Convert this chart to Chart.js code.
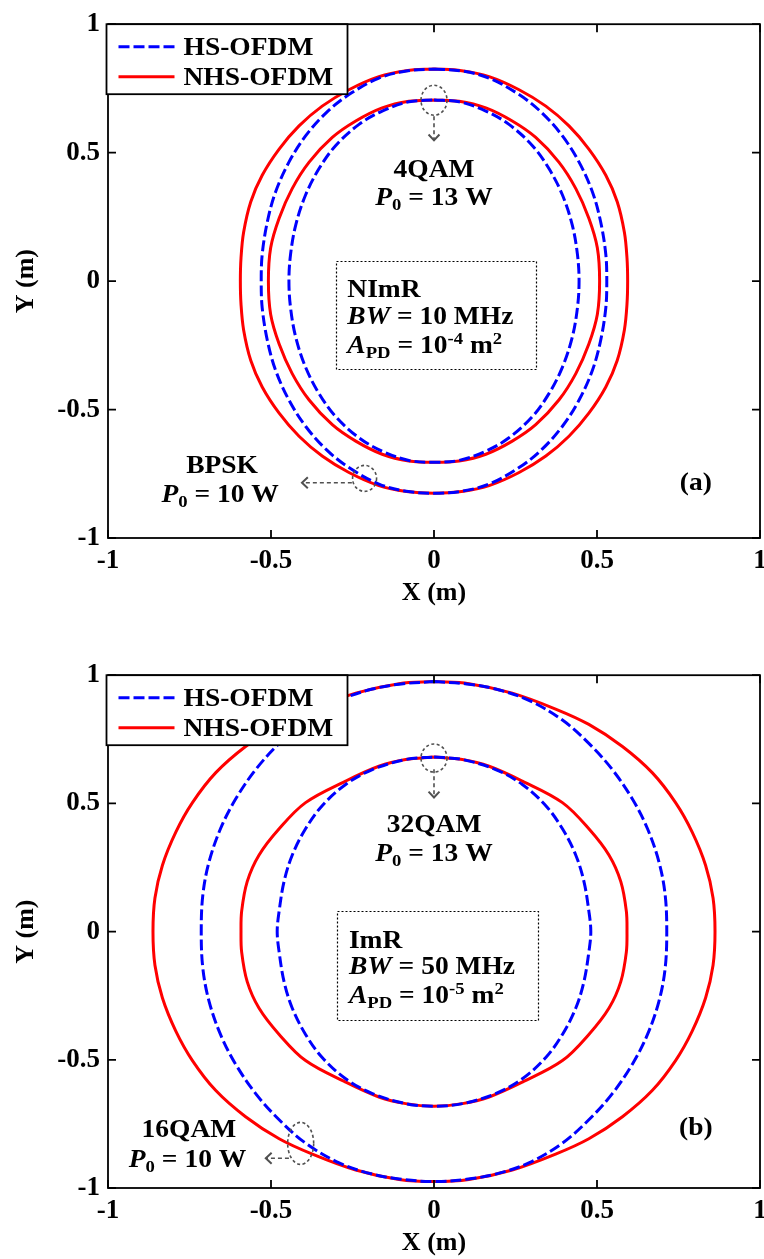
<!DOCTYPE html>
<html>
<head>
<meta charset="utf-8">
<title>Coverage boundaries: HS-OFDM vs NHS-OFDM</title>
<script src="https://cdn.jsdelivr.net/npm/chart.js@4.4.1/dist/chart.umd.min.js"></script>
<style>
  html, body { margin: 0; padding: 0; background: #fff; width: 764px; height: 1259px; overflow: hidden; }
  canvas { position: absolute; left: 0; }
  #panelA { top: 0; }
  #panelB { top: 651px; }
</style>
</head>
<body>
<canvas id="panelA" width="764" height="620"></canvas>
<canvas id="panelB" width="764" height="608"></canvas>
<script>
// ---- axis ticks ----
const tickValues = [-1, -0.5, 0, 0.5, 1];
const tickLabels = ['-1', '-0.5', '0', '0.5', '1'];
const seriesNames = ['HS-OFDM', 'NHS-OFDM'];

// ---- panel (a): NImR, BW = 10 MHz; outer = BPSK (P0 = 10 W), inner = 4QAM (P0 = 13 W) ----
const aHsOuter = [[0,0.826],[0.085,0.818],[0.169,0.790],[0.261,0.726],[0.331,0.655],[0.394,0.565],[0.445,0.463],[0.486,0.347],[0.511,0.232],[0.527,0.104],[0.530,0],
  [0.527,-0.104],[0.511,-0.232],[0.486,-0.347],[0.445,-0.463],[0.394,-0.565],[0.331,-0.655],[0.261,-0.726],[0.169,-0.790],[0.085,-0.818],[0,-0.826],
  [-0.085,-0.818],[-0.169,-0.790],[-0.261,-0.726],[-0.331,-0.655],[-0.394,-0.565],[-0.445,-0.463],[-0.486,-0.347],[-0.511,-0.232],[-0.527,-0.104],[-0.530,0],
  [-0.527,0.104],[-0.511,0.232],[-0.486,0.347],[-0.445,0.463],[-0.394,0.565],[-0.331,0.655],[-0.261,0.726],[-0.169,0.790],[-0.085,0.818],[0,0.826]];

const aNhsOuter = [[0,0.826],[0.085,0.819],[0.169,0.796],[0.261,0.745],[0.343,0.681],[0.414,0.604],[0.475,0.514],[0.527,0.412],[0.562,0.309],[0.584,0.190],[0.592,0.090],[0.594,0],
  [0.592,-0.090],[0.584,-0.190],[0.562,-0.309],[0.527,-0.412],[0.475,-0.514],[0.414,-0.604],[0.343,-0.681],[0.261,-0.745],[0.169,-0.796],[0.085,-0.819],[0,-0.826],
  [-0.085,-0.819],[-0.169,-0.796],[-0.261,-0.745],[-0.343,-0.681],[-0.414,-0.604],[-0.475,-0.514],[-0.527,-0.412],[-0.562,-0.309],[-0.584,-0.190],[-0.592,-0.090],[-0.594,0],
  [-0.592,0.090],[-0.584,0.190],[-0.562,0.309],[-0.527,0.412],[-0.475,0.514],[-0.414,0.604],[-0.343,0.681],[-0.261,0.745],[-0.169,0.796],[-0.085,0.819],[0,0.826]];

const aHsInner = [[0,0.705],[0.077,0.698],[0.159,0.662],[0.230,0.610],[0.302,0.527],[0.353,0.437],[0.394,0.335],[0.424,0.219],[0.440,0.104],[0.445,0],
  [0.440,-0.104],[0.424,-0.219],[0.394,-0.335],[0.353,-0.437],[0.302,-0.527],[0.230,-0.610],[0.159,-0.662],[0.077,-0.698],[0,-0.705],
  [-0.077,-0.698],[-0.159,-0.662],[-0.230,-0.610],[-0.302,-0.527],[-0.353,-0.437],[-0.394,-0.335],[-0.424,-0.219],[-0.440,-0.104],[-0.445,0],
  [-0.440,0.104],[-0.424,0.219],[-0.394,0.335],[-0.353,0.437],[-0.302,0.527],[-0.230,0.610],[-0.159,0.662],[-0.077,0.698],[0,0.705]];

const aNhsInner = [[0,0.705],[0.077,0.700],[0.159,0.674],[0.240,0.623],[0.312,0.559],[0.383,0.463],[0.435,0.360],[0.475,0.245],[0.501,0.130],[0.508,0],
  [0.501,-0.130],[0.475,-0.245],[0.435,-0.360],[0.383,-0.463],[0.312,-0.559],[0.240,-0.623],[0.159,-0.674],[0.077,-0.700],[0,-0.705],
  [-0.077,-0.700],[-0.159,-0.674],[-0.240,-0.623],[-0.312,-0.559],[-0.383,-0.463],[-0.435,-0.360],[-0.475,-0.245],[-0.501,-0.130],[-0.508,0],
  [-0.501,0.130],[-0.475,0.245],[-0.435,0.360],[-0.383,0.463],[-0.312,0.559],[-0.240,0.623],[-0.159,0.674],[-0.077,0.700],[0,0.705]];

// ---- panel (b): ImR, BW = 50 MHz; outer = 16QAM (P0 = 10 W), inner = 32QAM (P0 = 13 W) ----
const bHsOuter = [[0,0.975],[0.100,0.966],[0.189,0.946],[0.291,0.902],[0.394,0.825],[0.475,0.734],[0.547,0.632],[0.609,0.516],[0.655,0.401],[0.690,0.272],[0.709,0.144],[0.714,0],
  [0.709,-0.144],[0.690,-0.272],[0.655,-0.401],[0.609,-0.516],[0.547,-0.632],[0.475,-0.734],[0.394,-0.825],[0.291,-0.902],[0.189,-0.946],[0.100,-0.966],[0,-0.975],
  [-0.100,-0.966],[-0.189,-0.946],[-0.291,-0.902],[-0.394,-0.825],[-0.475,-0.734],[-0.547,-0.632],[-0.609,-0.516],[-0.655,-0.401],[-0.690,-0.272],[-0.709,-0.144],[-0.714,0],
  [-0.709,0.144],[-0.690,0.272],[-0.655,0.401],[-0.609,0.516],[-0.547,0.632],[-0.475,0.734],[-0.394,0.825],[-0.291,0.902],[-0.189,0.946],[-0.100,0.966],[0,0.975]];

const bNhsOuter = [[0,0.975],[0.107,0.967],[0.240,0.930],[0.373,0.868],[0.475,0.808],[0.578,0.722],[0.670,0.619],[0.741,0.503],[0.792,0.388],[0.833,0.259],[0.856,0.131],[0.862,0],
  [0.856,-0.131],[0.833,-0.259],[0.792,-0.388],[0.741,-0.503],[0.670,-0.619],[0.578,-0.722],[0.475,-0.808],[0.373,-0.868],[0.240,-0.930],[0.107,-0.967],[0,-0.975],
  [-0.107,-0.967],[-0.240,-0.930],[-0.373,-0.868],[-0.475,-0.808],[-0.578,-0.722],[-0.670,-0.619],[-0.741,-0.503],[-0.792,-0.388],[-0.833,-0.259],[-0.856,-0.131],[-0.862,0],
  [-0.856,0.131],[-0.833,0.259],[-0.792,0.388],[-0.741,0.503],[-0.670,0.619],[-0.578,0.722],[-0.475,0.808],[-0.373,0.868],[-0.240,0.930],[-0.107,0.967],[0,0.975]];

const bHsInner = [[0,0.681],[0.087,0.671],[0.189,0.632],[0.271,0.574],[0.343,0.491],[0.394,0.401],[0.435,0.298],[0.460,0.195],[0.475,0.080],[0.481,0],
  [0.475,-0.080],[0.460,-0.195],[0.435,-0.298],[0.394,-0.401],[0.343,-0.491],[0.271,-0.574],[0.189,-0.632],[0.087,-0.671],[0,-0.681],
  [-0.087,-0.671],[-0.189,-0.632],[-0.271,-0.574],[-0.343,-0.491],[-0.394,-0.401],[-0.435,-0.298],[-0.460,-0.195],[-0.475,-0.080],[-0.481,0],
  [-0.475,0.080],[-0.460,0.195],[-0.435,0.298],[-0.394,0.401],[-0.343,0.491],[-0.271,0.574],[-0.189,0.632],[-0.087,0.671],[0,0.681]];

const bNhsInner = [[0,0.681],[0.087,0.671],[0.169,0.645],[0.271,0.587],[0.394,0.503],[0.475,0.401],[0.537,0.298],[0.573,0.195],[0.590,0.080],[0.592,0],
  [0.590,-0.080],[0.573,-0.195],[0.537,-0.298],[0.475,-0.401],[0.394,-0.503],[0.271,-0.587],[0.169,-0.645],[0.087,-0.671],[0,-0.681],
  [-0.087,-0.671],[-0.169,-0.645],[-0.271,-0.587],[-0.394,-0.503],[-0.475,-0.401],[-0.537,-0.298],[-0.573,-0.195],[-0.590,-0.080],[-0.592,0],
  [-0.590,0.080],[-0.573,0.195],[-0.537,0.298],[-0.475,0.401],[-0.394,0.503],[-0.271,0.587],[-0.169,0.645],[-0.087,0.671],[0,0.681]];

// ---- styling ----
const FAMILY = '"Liberation Serif", "Times New Roman", Times, serif';
const BLUE = '#0000ff';
const RED = '#ff0000';
const NOTE = '#505050';
const STRETCH = 1.1;   // the figure's lettering is set slightly wide

const toPts = arr => arr.map(p => ({ x: p[0], y: p[1] }));

function hsSet(arr) {
  return { label: seriesNames[0], data: toPts(arr), showLine: true, pointRadius: 0,
           borderColor: BLUE, borderWidth: 3, borderDash: [11, 4], tension: 0.35, fill: false, order: 0 };
}
function nhsSet(arr) {
  return { label: seriesNames[1], data: toPts(arr), showLine: true, pointRadius: 0,
           borderColor: RED, borderWidth: 3, tension: 0.35, fill: false, order: 1 };
}

// draws a run of mixed italic / subscript / superscript text
function drawRich(ctx, runs, x, y, size, align) {
  const fontOf = r => (r.it ? 'italic ' : '') + 'bold ' + ((r.sub || r.sup) ? Math.round(size * 0.66) : size) + 'px ' + FAMILY;
  let total = 0;
  const widths = runs.map(r => { ctx.font = fontOf(r); const w = ctx.measureText(r.t).width; total += w; return w; });
  const startX = align === 'center' ? x - total * STRETCH / 2 : x;
  const base = y + size * 0.33;
  ctx.save();
  ctx.translate(startX, base);
  ctx.scale(STRETCH, 1);
  ctx.fillStyle = '#000';
  ctx.textBaseline = 'alphabetic';
  ctx.textAlign = 'left';
  let cx = 0;
  runs.forEach((r, i) => {
    ctx.font = fontOf(r);
    const dy = r.sub ? size * 0.2 : (r.sup ? -size * 0.36 : 0);
    ctx.fillText(r.t, cx, dy);
    cx += widths[i];
  });
  ctx.restore();
}

function noteTools(chart) {
  const { ctx, scales: { x: sx, y: sy } } = chart;
  const X = v => sx.getPixelForValue(v);
  const Y = v => sy.getPixelForValue(v);
  return {
    ring(cx, cy, rx, ry) {
      ctx.save();
      ctx.strokeStyle = NOTE; ctx.lineWidth = 1.6; ctx.setLineDash([3, 2.5]);
      ctx.beginPath(); ctx.ellipse(X(cx), Y(cy), rx, ry, 0, 0, Math.PI * 2); ctx.stroke();
      ctx.restore();
    },
    arrow(x1, y1, x2, y2) {
      const ax = X(x1), ay = Y(y1), bx = X(x2), by = Y(y2);
      const ang = Math.atan2(by - ay, bx - ax);
      ctx.save();
      ctx.strokeStyle = NOTE; ctx.lineWidth = 1.6;
      ctx.setLineDash([4, 3]);
      ctx.beginPath(); ctx.moveTo(ax, ay); ctx.lineTo(bx, by); ctx.stroke();
      ctx.setLineDash([]);
      ctx.lineWidth = 2;
      ctx.beginPath();
      ctx.moveTo(bx - 8 * Math.cos(ang - 0.75), by - 8 * Math.sin(ang - 0.75));
      ctx.lineTo(bx, by);
      ctx.lineTo(bx - 8 * Math.cos(ang + 0.75), by - 8 * Math.sin(ang + 0.75));
      ctx.stroke();
      ctx.restore();
    },
    box(x1, y1, x2, y2) {
      ctx.save();
      ctx.strokeStyle = '#000'; ctx.lineWidth = 1.2; ctx.setLineDash([2, 2]);
      ctx.strokeRect(Math.round(X(x1)) + 0.5, Math.round(Y(y1)) + 0.5, Math.round(X(x2) - X(x1)), Math.round(Y(y2) - Y(y1)));
      ctx.restore();
    },
    text(runs, x, y, align, size) { drawRich(ctx, runs, X(x), Y(y), size, align); }
  };
}

const P0 = w => [{ t: 'P', it: true }, { t: '0', sub: true }, { t: ' = ' + w + ' W' }];

// axes frame with inward ticks on all four sides
const framePlugin = {
  id: 'frame',
  afterDatasetsDraw(chart) {
    const { ctx, chartArea: a, scales: { x, y } } = chart;
    ctx.save();
    ctx.strokeStyle = '#000';
    ctx.lineWidth = 1.8;
    ctx.strokeRect(a.left, a.top, a.right - a.left, a.bottom - a.top);
    ctx.beginPath();
    tickValues.forEach(v => {
      const px = x.getPixelForValue(v), py = y.getPixelForValue(v);
      ctx.moveTo(px, a.bottom); ctx.lineTo(px, a.bottom - 8);
      ctx.moveTo(px, a.top); ctx.lineTo(px, a.top + 8);
      ctx.moveTo(a.left, py); ctx.lineTo(a.left + 8, py);
      ctx.moveTo(a.right, py); ctx.lineTo(a.right - 8, py);
    });
    ctx.stroke();
    ctx.restore();
  }
};

// boxed legend in the upper-left corner of the axes
const boxLegendPlugin = {
  id: 'boxLegend',
  afterDraw(chart) {
    const { ctx, chartArea: a } = chart;
    const left = a.left - 1.5, top = a.top, w = 241, h = 70;
    ctx.save();
    ctx.fillStyle = '#fff';
    ctx.fillRect(left, top, w, h);
    ctx.strokeStyle = '#000'; ctx.lineWidth = 1.8;
    ctx.strokeRect(left, top, w, h);
    const entries = [chart.data.datasets[0], chart.data.datasets[2]];
    entries.forEach((ds, i) => {
      const yy = top + 22.5 + i * 30;
      ctx.save();
      ctx.strokeStyle = ds.borderColor; ctx.lineWidth = ds.borderWidth;
      ctx.setLineDash(ds.borderDash || []);
      ctx.beginPath(); ctx.moveTo(left + 12, yy); ctx.lineTo(left + 68, yy); ctx.stroke();
      ctx.restore();
      drawRich(ctx, [{ t: ds.label }], left + 77, yy, 25, 'left');
    });
    ctx.restore();
  }
};

function makeNotes(drawFn) {
  return { id: 'notes', afterDraw(chart) { drawFn(noteTools(chart)); } };
}

function panel(canvasId, sets, padTop, xAxisH, xTitlePad, notes) {
  const tickFont = { family: FAMILY, size: 27, weight: 'bold' };
  const titleFont = { family: FAMILY, size: 26, weight: 'bold' };
  return new Chart(document.getElementById(canvasId), {
    type: 'scatter',
    data: { datasets: sets },
    options: {
      responsive: false,
      devicePixelRatio: 1,
      animation: false,
      events: [],
      layout: { padding: { top: padTop, right: 4, bottom: 0, left: 0 } },
      plugins: { legend: { display: false }, tooltip: { enabled: false } },
      scales: {
        x: {
          type: 'linear', position: 'bottom', min: -1, max: 1,
          afterBuildTicks: s => { s.ticks = tickValues.map(v => ({ value: v })); },
          afterFit: s => { s.height = xAxisH; s.paddingLeft = 0; s.paddingRight = 0; },
          grid: { display: false, drawTicks: false },
          border: { display: false },
          ticks: { callback: (v, i) => tickLabels[i], font: tickFont, color: '#000', padding: 7, maxRotation: 0, autoSkip: false },
          title: { display: true, text: 'X (m)', font: titleFont, color: '#000', padding: { top: 0, bottom: xTitlePad } }
        },
        y: {
          type: 'linear', position: 'left', min: -1, max: 1,
          afterBuildTicks: s => { s.ticks = tickValues.map(v => ({ value: v })); },
          afterFit: s => { s.width = 108; },
          grid: { display: false, drawTicks: false },
          border: { display: false },
          ticks: { callback: (v, i) => tickLabels[i], font: tickFont, color: '#000', padding: 8, autoSkip: false },
          title: { display: true, text: 'Y (m)', font: titleFont, color: '#000', padding: { top: 11, bottom: 0 } }
        }
      }
    },
    plugins: [framePlugin, makeNotes(notes), boxLegendPlugin]
  });
}

panel('panelA', [hsSet(aHsOuter), hsSet(aHsInner), nhsSet(aNhsOuter), nhsSet(aNhsInner)], 17, 82, 11, t => {
  t.ring(0, 0.704, 13, 15);
  t.arrow(0, 0.642, 0, 0.548);
  t.text([{ t: '4QAM' }], 0, 0.438, 'center', 25);
  t.text(P0('13'), 0, 0.328, 'center', 25);
  t.box(-0.302, 0.078, 0.311, -0.342);
  t.text([{ t: 'NImR' }], -0.266, -0.031, 'left', 25);
  t.text([{ t: 'BW', it: true }, { t: ' = 10 MHz' }], -0.266, -0.133, 'left', 25);
  t.text([{ t: 'A', it: true }, { t: 'PD', sub: true }, { t: ' = 10' }, { t: '-4', sup: true }, { t: ' m' }, { t: '2', sup: true }], -0.266, -0.249, 'left', 25);
  t.text([{ t: 'BPSK' }], -0.650, -0.714, 'center', 25);
  t.text(P0('10'), -0.656, -0.826, 'center', 25);
  t.ring(-0.213, -0.768, 12, 13);
  t.arrow(-0.252, -0.785, -0.405, -0.785);
  t.text([{ t: '(a)' }], 0.803, -0.781, 'center', 25);
});

panel('panelB', [hsSet(bHsOuter), hsSet(bHsInner), nhsSet(bNhsOuter), nhsSet(bNhsInner)], 18, 71, 0, t => {
  t.ring(0, 0.677, 13, 14);
  t.arrow(0, 0.633, 0, 0.523);
  t.text([{ t: '32QAM' }], 0, 0.421, 'center', 25);
  t.text(P0('13'), 0, 0.306, 'center', 25);
  t.box(-0.298, 0.079, 0.319, -0.346);
  t.text([{ t: 'ImR' }], -0.261, -0.030, 'left', 25);
  t.text([{ t: 'BW', it: true }, { t: ' = 50 MHz' }], -0.261, -0.133, 'left', 25);
  t.text([{ t: 'A', it: true }, { t: 'PD', sub: true }, { t: ' = 10' }, { t: '-5', sup: true }, { t: ' m' }, { t: '2', sup: true }], -0.261, -0.248, 'left', 25);
  t.text([{ t: '16QAM' }], -0.752, -0.768, 'center', 25);
  t.text(P0('10'), -0.756, -0.884, 'center', 25);
  t.ring(-0.409, -0.826, 13, 21);
  t.arrow(-0.445, -0.884, -0.516, -0.884);
  t.text([{ t: '(b)' }], 0.803, -0.760, 'center', 25);
});
</script>
</body>
</html>
